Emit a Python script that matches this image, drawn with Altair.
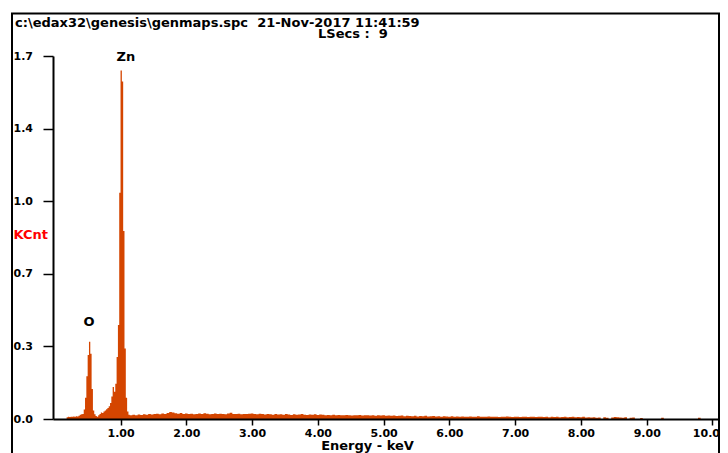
import altair as alt
import pandas as pd

# ---- data ----
# fine channels, 0.02 keV wide, covering the O K and Zn L peaks (start energy 0.16 keV)
fine_start = 0.16
fine_step = 0.02
fine_kcnt = [
    0.000, 0.008, 0.010, 0.009, 0.011, 0.010, 0.012, 0.011, 0.013, 0.012,
    0.015, 0.020, 0.022, 0.024, 0.045, 0.100, 0.200, 0.300, 0.362, 0.305,
    0.140, 0.040, 0.022, 0.014, 0.011, 0.017, 0.024, 0.030, 0.028, 0.035,
    0.040, 0.046, 0.052, 0.060, 0.075, 0.105, 0.150, 0.128, 0.165, 0.290,
    0.440, 1.060, 1.632, 1.580, 0.880, 0.330, 0.100, 0.035, 0.020,
]
# background channels, 0.04 keV wide (start energy 1.14 keV)
bg_start = 1.14
bg_step = 0.04
bg_kcnt = [
    0.018, 0.020, 0.017, 0.021, 0.019, 0.022, 0.020, 0.024, 0.021, 0.023, 0.025, 0.022, 0.026,
    0.024, 0.028, 0.033, 0.030, 0.027, 0.025, 0.028, 0.024, 0.026, 0.023, 0.025, 0.022,
    0.024, 0.026, 0.023, 0.027, 0.025, 0.022, 0.024, 0.026, 0.023, 0.025, 0.024, 0.022, 0.026,
    0.029, 0.024, 0.023, 0.025, 0.022, 0.024, 0.023, 0.025, 0.026, 0.024, 0.022, 0.025,
    0.023, 0.021, 0.024, 0.022, 0.020, 0.023, 0.021, 0.022, 0.020, 0.023, 0.021, 0.019, 0.022,
    0.020, 0.021, 0.023, 0.020, 0.019, 0.021, 0.020, 0.022, 0.019, 0.021, 0.020, 0.018,
    0.019, 0.018, 0.020, 0.017, 0.019, 0.018, 0.017, 0.019, 0.018, 0.016, 0.018, 0.017, 0.019,
    0.016, 0.017, 0.018, 0.016, 0.017, 0.015, 0.017, 0.016, 0.018, 0.015, 0.016, 0.015,
    0.016, 0.014, 0.015, 0.016, 0.013, 0.015, 0.014, 0.013, 0.015, 0.012, 0.014, 0.013, 0.015,
    0.012, 0.013, 0.014, 0.012, 0.013, 0.011, 0.013, 0.012, 0.011, 0.013, 0.010, 0.012,
    0.011, 0.012, 0.010, 0.011, 0.012, 0.010, 0.011, 0.013, 0.010, 0.011, 0.010, 0.012, 0.011,
    0.010, 0.011, 0.009, 0.011, 0.010, 0.012, 0.010, 0.009, 0.011, 0.010, 0.009, 0.010,
    0.010, 0.009, 0.011, 0.010, 0.009, 0.010, 0.011, 0.009, 0.010, 0.008, 0.010, 0.009, 0.011,
    0.008, 0.009, 0.010, 0.008, 0.009, 0.010, 0.008, 0.009, 0.008, 0.010, 0.007, 0.008,
    0.007, 0.008, 0.006, 0.007, 0.000, 0.008, 0.006, 0.000, 0.007, 0.009, 0.008, 0.007, 0.006,
    0.008, 0.000, 0.006, 0.007, 0.000, 0.000, 0.005, 0.000, 0.000, 0.000, 0.000, 0.000,
    0.000, 0.000, 0.006, 0.000, 0.000, 0.000, 0.000, 0.000, 0.000, 0.000, 0.000, 0.000, 0.000,
    0.000, 0.000, 0.000, 0.006, 0.000, 0.000, 0.000, 0.000, 0.000, 0.000, 0.000, 0.000,
    0.000,
]

y_tick_values = [0.0, 0.34, 0.68, 1.02, 1.36, 1.70]
x_tick_values = [1, 2, 3, 4, 5, 6, 7, 8, 9, 10]

peak_names = ["O", "Zn"]
peak_label_energy = [0.521, 1.08]
peak_label_kcnt = [0.453, 1.697]

header_1 = "c:\\edax32\\genesis\\genmaps.spc\u00a0\u00a021-Nov-2017 11:41:59"
header_2 = "LSecs :\u00a0\u00a09"

# ---- tables ----
energy = [round(fine_start + fine_step * i, 3) for i in range(len(fine_kcnt))]
energy += [round(bg_start + bg_step * i, 3) for i in range(len(bg_kcnt))]
kcnt = fine_kcnt + bg_kcnt
energy.append(round(energy[-1] + bg_step, 3))
kcnt.append(0.0)
spec = pd.DataFrame({"energy": energy, "kcnt": kcnt})

peaks = pd.DataFrame({"el": peak_names, "energy": peak_label_energy, "kcnt": peak_label_kcnt})

FONT = "DejaVu Sans"
ORANGE = "#d44500"

PLOT_W = 667
PLOT_H = 363
xscale = alt.Scale(domain=[-0.027, -0.027 + PLOT_W / 65.77], nice=False, zero=False)
yscale = alt.Scale(domain=[0, 1.7], nice=False)

area = alt.Chart(spec).mark_area(
    interpolate="step-after", color=ORANGE, clip=True
).encode(
    x=alt.X("energy:Q", scale=xscale,
            axis=alt.Axis(values=x_tick_values,
                          labelExpr="datum.value == 10 ? '10.0' : format(datum.value, '.2f')",
                          labelAlign={"condition": {"test": "datum.value == 10", "value": "right"},
                                      "value": "center"},
                          labelOffset={"condition": {"test": "datum.value == 10", "value": 7},
                                       "value": 0},
                          title="Energy - keV", titleX=314, titleY=30,
                          titleBaseline="alphabetic", titleAlign="center",
                          titleFont=FONT, titleFontSize=13, titleFontWeight="bold",
                          titleColor="black",
                          labelFont=FONT, labelFontSize=11, labelFontWeight="bold",
                          labelColor="black", labelPadding=2, labelFlush=False,
                          tickSize=6, tickWidth=1.5, tickColor="black",
                          domainColor="black", domainWidth=2, grid=False, zindex=1)),
    y=alt.Y("kcnt:Q", scale=yscale,
            axis=alt.Axis(values=y_tick_values, format=".1f",
                          title="KCnt", titleAngle=0, titleX=-40, titleY=178,
                          titleAlign="left", titleBaseline="middle",
                          titleFont=FONT, titleFontSize=13, titleFontWeight="bold",
                          titleColor="#ff0000",
                          labelFont=FONT, labelFontSize=11, labelFontWeight="bold",
                          labelColor="black", labelAlign="left", labelBaseline="middle",
                          labelPadding=30, labelFlush=False,
                          tickSize=10, tickWidth=1.5, tickColor="black",
                          domainColor="black", domainWidth=2, grid=False, zindex=1)),
)

labels = alt.Chart(peaks).mark_text(
    font=FONT, fontSize=13, fontWeight="bold", color="black", baseline="middle"
).encode(
    x=alt.X("energy:Q", scale=xscale),
    y=alt.Y("kcnt:Q", scale=yscale),
    text="el:N",
)

head1 = alt.Chart(pd.DataFrame({"t": [header_1]})).mark_text(
    font=FONT, fontSize=13, fontWeight="bold", color="black",
    align="left", baseline="alphabetic"
).encode(x=alt.value(-38), y=alt.value(-29.5), text="t:N")

head2 = alt.Chart(pd.DataFrame({"t": [header_2]})).mark_text(
    font=FONT, fontSize=13, fontWeight="bold", color="black",
    align="left", baseline="alphabetic"
).encode(x=alt.value(265), y=alt.value(-18.5), text="t:N")

frame = alt.Chart(pd.DataFrame({"f": [0]})).mark_rect(
    filled=False, stroke="black", strokeWidth=2
).encode(x=alt.value(-41), x2=alt.value(PLOT_W - 1), y=alt.value(-42.5), y2=alt.value(420))

chart = alt.layer(frame, area, labels, head1, head2).properties(
    width=PLOT_W, height=PLOT_H,
    autosize=alt.AutoSizeParams(type="none"),
    padding={"left": 45, "top": 48, "right": 0, "bottom": 34},
    background="white",
).configure_view(strokeWidth=0)

chart.save("out.html", embed_options={"renderer": "svg", "actions": False})
